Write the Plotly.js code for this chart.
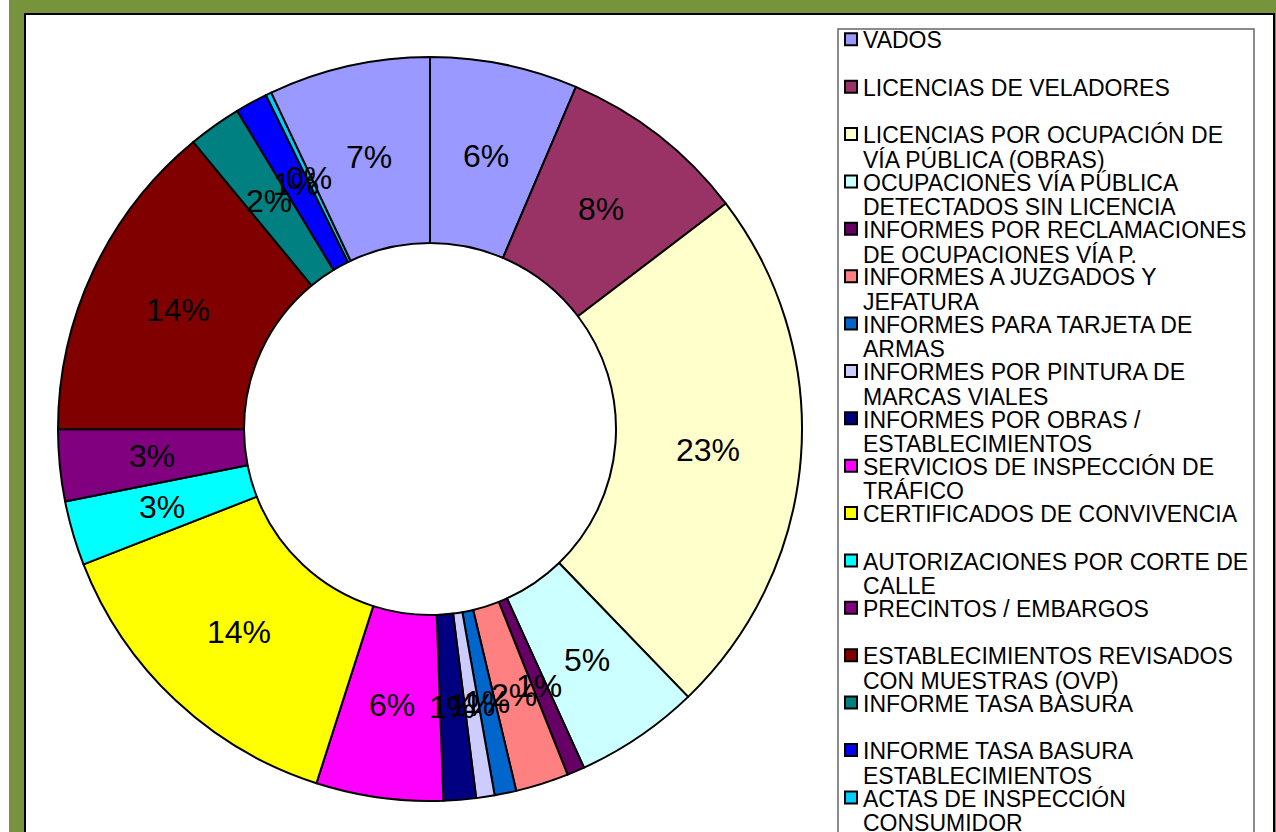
<!DOCTYPE html>
<html><head><meta charset="utf-8">
<script src="https://cdn.plot.ly/plotly-3.0.1.min.js"></script>
<style>html,body{margin:0;padding:0;background:#fff;overflow:hidden}</style>
</head><body><div id="chart" style="width:1276px;height:832px"></div>
<script>
// ---- data ----
const legendLines = [
  ["VADOS"],
  ["LICENCIAS DE VELADORES"],
  ["LICENCIAS POR OCUPACIÓN DE", "VÍA PÚBLICA (OBRAS)"],
  ["OCUPACIONES VÍA PÚBLICA", "DETECTADOS SIN LICENCIA"],
  ["INFORMES POR RECLAMACIONES", "DE OCUPACIONES VÍA P."],
  ["INFORMES A JUZGADOS Y", "JEFATURA"],
  ["INFORMES PARA TARJETA DE", "ARMAS"],
  ["INFORMES POR PINTURA DE", "MARCAS VIALES"],
  ["INFORMES POR OBRAS /", "ESTABLECIMIENTOS"],
  ["SERVICIOS DE INSPECCIÓN DE", "TRÁFICO"],
  ["CERTIFICADOS DE CONVIVENCIA"],
  ["AUTORIZACIONES POR CORTE DE", "CALLE"],
  ["PRECINTOS / EMBARGOS"],
  ["ESTABLECIMIENTOS REVISADOS", "CON MUESTRAS (OVP)"],
  ["INFORME TASA BASURA"],
  ["INFORME TASA BASURA", "ESTABLECIMIENTOS"],
  ["ACTAS DE INSPECCIÓN", "CONSUMIDOR"],
  ["OTROS"]
];
const categories = legendLines.map(l => l.join(" "));
const values = [6.4, 8.2, 23.1, 5.4, 0.76, 2.3, 0.94, 0.8, 1.4, 5.5, 14.1, 2.8, 3.1, 14.0, 2.3, 1.4, 0.25, 7.0];
const colors = ["#9999FF","#993366","#FFFFCC","#CCFFFF","#660066","#FF8080","#0066CC","#CCCCFF","#000080","#FF00FF","#FFFF00","#00FFFF","#800080","#800000","#008080","#0000FF","#00CCFF","#9999FF"];

// ---- geometry helpers ----
const W = 1276, H = 832;
const px = x => x / W;
const py = y => 1 - y / H;
const FONT = "Liberation Sans, Arial, sans-serif";

const domX = [58 / W, 802 / W];
const domY = [1 - 801 / H, 1 - 57 / H];
const hole = 0.5;

const total = values.reduce((a, b) => a + b, 0);
const pctText = values.map(v => Math.round(v / total * 100) + "%");

// pie geometry derived from the domain
const cx = (domX[0] + domX[1]) / 2 * W;
const cy = (1 - (domY[0] + domY[1]) / 2) * H;
const R = Math.min((domX[1] - domX[0]) * W, (domY[1] - domY[0]) * H) / 2;
const rMid = R * (1 + hole) / 2;

const annotations = [];
const shapes = [];

// frame
shapes.push({type: "rect", xref: "paper", yref: "paper", x0: 0, x1: px(9), y0: 0, y1: 1,
  fillcolor: "#ffffff", line: {width: 0}, layer: "below"});
shapes.push({type: "rect", xref: "paper", yref: "paper", x0: px(25), x1: px(1274), y0: py(860), y1: py(14),
  fillcolor: "#ffffff", line: {color: "#000000", width: 2}, layer: "below"});
// legend box
shapes.push({type: "rect", xref: "paper", yref: "paper", x0: px(838), x1: px(1254), y0: py(900), y1: py(29),
  fillcolor: "rgba(0,0,0,0)", line: {color: "#666666", width: 1.5}, layer: "below"});

// slice labels (mid-ring, mid-angle)
let cum = 0;
values.forEach((v, i) => {
  const a = (cum + v / 2) / total * 2 * Math.PI;
  cum += v;
  const x = cx + rMid * Math.sin(a);
  const y = cy - rMid * Math.cos(a);
  annotations.push({xref: "paper", yref: "paper", x: px(x), y: py(y), xanchor: "center", yanchor: "middle",
    text: pctText[i], showarrow: false, borderpad: 0, font: {family: FONT, size: 32, color: "#000"}});
});

// legend entries
const baseline0 = 47.3, step = 47.38, lineGap = 24.5, fs = 23;
legendLines.forEach((lines, i) => {
  const b = baseline0 + i * step;
  shapes.push({type: "rect", xref: "paper", yref: "paper", x0: px(845), x1: px(857), y0: py(b - 2), y1: py(b - 14),
    fillcolor: colors[i], line: {color: "#000000", width: 2}});
  lines.forEach((t, k) => {
    const bl = b + k * lineGap;
    annotations.push({xref: "paper", yref: "paper", x: px(862), y: py(bl - 0.905 * fs), xanchor: "left", yanchor: "top",
      text: t, showarrow: false, borderpad: 0, font: {family: FONT, size: fs, color: "#000"}});
  });
});

const trace = {
  type: "pie",
  labels: categories,
  values: values,
  sort: false,
  direction: "clockwise",
  rotation: 0,
  hole: hole,
  domain: {x: domX, y: domY},
  marker: {colors: colors, line: {color: "#000000", width: 2}},
  textinfo: "none",
  hoverinfo: "label+percent",
  showlegend: false
};

const layout = {
  width: W, height: H,
  margin: {l: 0, r: 0, t: 0, b: 0},
  paper_bgcolor: "#77933C",
  showlegend: false,
  shapes: shapes,
  annotations: annotations,
  font: {family: FONT}
};

Plotly.newPlot("chart", [trace], layout, {displayModeBar: false, staticPlot: true});
</script>
</body></html>
